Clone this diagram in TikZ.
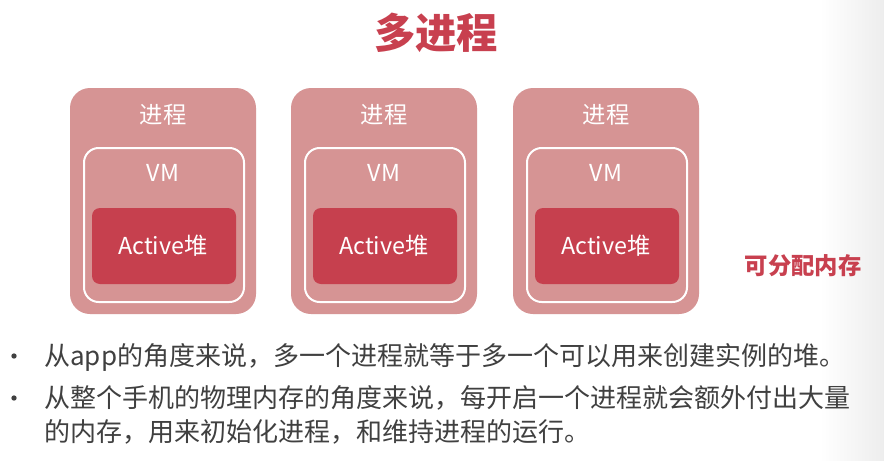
\documentclass[tikz,border=0pt]{standalone}
\usepackage{fontspec}
\setmainfont{Noto Sans CJK SC}
\newfontfamily\cjkfont{Noto Sans CJK SC}
\begin{document}
\begin{tikzpicture}[x=0.75pt,y=-0.75pt,
  procbox/.style={fill=procfill,rounded corners=15pt},
  vmbox/.style={draw=white,line width=1.5pt,rounded corners=11pt},
  heapbox/.style={fill=heapred,rounded corners=6pt},
  boxtext/.style={text=white,font=\cjkfont\fontsize{17.5}{20}\selectfont,inner sep=0pt},
  bodytext/.style={text=bodygray,font=\cjkfont\fontsize{19.5}{24}\selectfont,inner sep=0pt,anchor=base west},
  bulletdot/.style={circle,fill=bodygray,inner sep=0pt,minimum size=4pt}]
\definecolor{procfill}{HTML}{D69494}
\definecolor{heapred}{HTML}{C6404E}
\definecolor{titlered}{HTML}{C8404F}
\definecolor{bodygray}{HTML}{404040}
\useasboundingbox (0,0) rectangle (884,460);
\fill[white] (0,0) rectangle (884,460);
\shade[left color=white,right color=black!7] (820,0) rectangle (884,460);

\node[text=titlered,font=\cjkfont\bfseries\fontsize{31}{34}\selectfont,inner sep=0pt] (title) at (436,33) {多进程};

\foreach \i/\x in {1/70,2/291,3/513}{
  \fill[procbox] (\x,88) rectangle ++(186,226);
  \draw[vmbox] (\x+14,148) rectangle ++(160,154);
  \fill[heapbox] (\x+22,208) rectangle ++(144,76);
  \node[boxtext] (proc\i) at (\x+93,115) {进程};
  \node[boxtext] (vm\i) at (\x+93,173) {VM};
  \node[boxtext] (heap\i) at (\x+93,246) {Active堆};
}

\node[text=titlered,font=\cjkfont\bfseries\fontsize{17.5}{20}\selectfont,inner sep=0pt] (mem) at (803,266) {可分配内存};

\node[bulletdot] (b1) at (14,356) {};
\node[bodytext] (l1) at (44,365) {从app的角度来说，多一个进程就等于多一个可以用来创建实例的堆。};
\node[bulletdot] (b2) at (14,398) {};
\node[bodytext] (l2) at (44,407) {从整个手机的物理内存的角度来说，每开启一个进程就会额外付出大量};
\node[bodytext] (l3) at (44,441) {的内存，用来初始化进程，和维持进程的运行。};
\end{tikzpicture}
\end{document}
